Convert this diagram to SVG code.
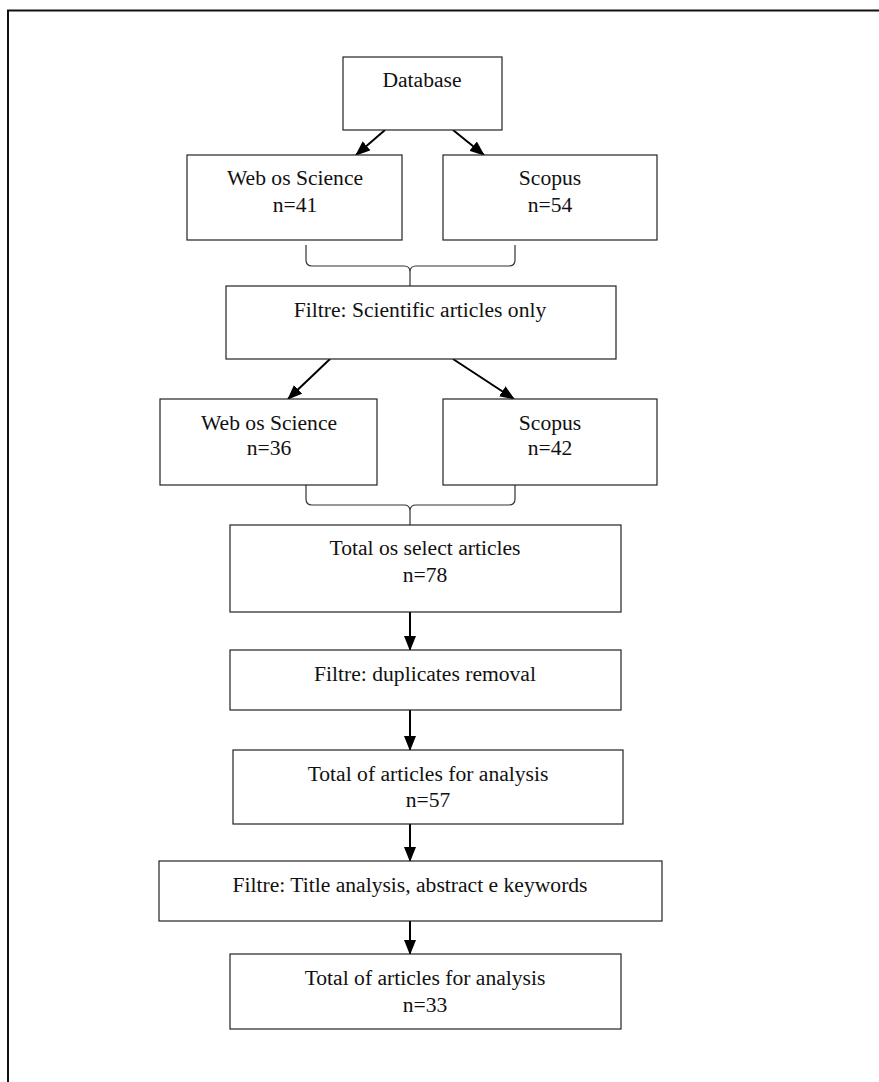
<svg xmlns="http://www.w3.org/2000/svg" width="879" height="1082" viewBox="0 0 879 1082">
<style>
.box{fill:#fff;stroke:#222;stroke-width:1.2}
.t{font-family:"Liberation Serif","Times New Roman",serif;font-size:21.6px;fill:#111;text-anchor:middle}
.arr{stroke:#000;stroke-width:2;fill:none;marker-end:url(#ah)}
.brace{stroke:#333;stroke-width:1.2;fill:none}
.frame{stroke:#111;stroke-width:2;fill:none}
</style>
<defs>
<marker id="ah" markerUnits="userSpaceOnUse" markerWidth="15" markerHeight="12" refX="14" refY="6" orient="auto">
<path d="M0,0 L15,6 L0,12 z" fill="#000"/>
</marker>
</defs>
<rect width="879" height="1082" fill="#fff"/>
<path class="frame" d="M8,1082 L8,10.5 L879,10.5"/>
<g id="connectors">
<line class="arr" x1="385" y1="130" x2="356" y2="155"/>
<line class="arr" x1="453" y1="130" x2="484" y2="155"/>
<line class="arr" x1="330" y1="359" x2="288" y2="399"/>
<line class="arr" x1="453" y1="359" x2="514" y2="399"/>
<line class="arr" x1="410" y1="612" x2="410" y2="650"/>
<line class="arr" x1="410" y1="710" x2="410" y2="750"/>
<line class="arr" x1="410" y1="824" x2="410" y2="861"/>
<line class="arr" x1="410" y1="921" x2="410" y2="954"/>
<path class="brace" d="M306,245 L306,260 Q306,266 312,266 L404,266 Q410,266 410,272 L410,287 M515,245 L515,260 Q515,266 509,266 L416,266 Q410,266 410,272"/>
<path class="brace" d="M306,485 L306,499 Q306,505 312,505 L404,505 Q410,505 410,511 L410,525 M515,485 L515,499 Q515,505 509,505 L416,505 Q410,505 410,511"/>
</g>
<g id="database">
<rect class="box" x="343" y="57" width="159" height="73"/>
<text class="t" x="422" y="87">Database</text>
</g>
<g id="wos1">
<rect class="box" x="187" y="155" width="215" height="85"/>
<text class="t" x="295" y="185">Web os Science</text>
<text class="t" x="295" y="212">n=41</text>
</g>
<g id="scopus1">
<rect class="box" x="443" y="155" width="214" height="85"/>
<text class="t" x="550" y="185">Scopus</text>
<text class="t" x="550" y="212">n=54</text>
</g>
<g id="filter1">
<rect class="box" x="226" y="286" width="390" height="73"/>
<text class="t" x="420" y="317">Filtre: Scientific articles only</text>
</g>
<g id="wos2">
<rect class="box" x="160" y="399" width="217" height="86"/>
<text class="t" x="269" y="430">Web os Science</text>
<text class="t" x="269" y="455">n=36</text>
</g>
<g id="scopus2">
<rect class="box" x="443" y="399" width="214" height="86"/>
<text class="t" x="550" y="430">Scopus</text>
<text class="t" x="550" y="455">n=42</text>
</g>
<g id="total1">
<rect class="box" x="230" y="525" width="391" height="87"/>
<text class="t" x="425" y="555">Total os select articles</text>
<text class="t" x="425" y="582">n=78</text>
</g>
<g id="filter2">
<rect class="box" x="230" y="650" width="391" height="60"/>
<text class="t" x="425" y="681">Filtre: duplicates removal</text>
</g>
<g id="total2">
<rect class="box" x="233" y="750" width="390" height="74"/>
<text class="t" x="428" y="781">Total of articles for analysis</text>
<text class="t" x="428" y="807">n=57</text>
</g>
<g id="filter3">
<rect class="box" x="159" y="861" width="503" height="60"/>
<text class="t" x="410" y="892">Filtre: Title analysis, abstract e keywords</text>
</g>
<g id="total3">
<rect class="box" x="230" y="954" width="391" height="75"/>
<text class="t" x="425" y="985">Total of articles for analysis</text>
<text class="t" x="425" y="1012">n=33</text>
</g>
</svg>
